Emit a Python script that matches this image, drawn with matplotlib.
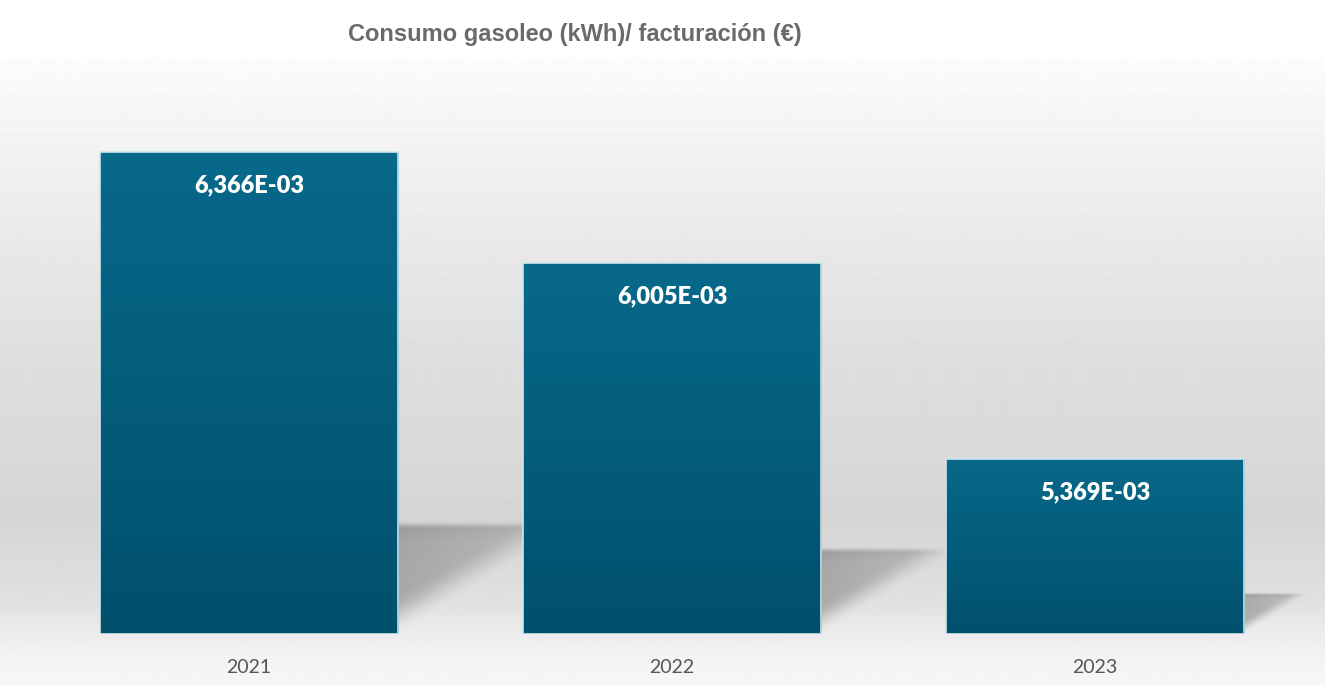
import numpy as np
import matplotlib
matplotlib.use('Agg')
import matplotlib.pyplot as plt
from matplotlib.colors import LinearSegmentedColormap

# data
years = ['2021', '2022', '2023']
ratio = [6.366e-3, 6.005e-3, 5.369e-3]   # kWh / €
y_min, y_max = 4.8e-3, 6.6e-3

W, H, DPI = 13.25, 6.85, 100
fig = plt.figure(figsize=(W, H), dpi=DPI, facecolor='white')

# background: wall fading to grey, then light floor
bg = fig.add_axes([0, 0, 1, 1], zorder=0)
bg.axis('off')
py = np.arange(685)
stops_y = [0, 55, 62, 200, 350, 520, 600, 634, 660, 685]
stops_g = [1.0, 1.0, 0.985, 0.93, 0.875, 0.835, 0.88, 0.925, 0.955, 0.965]
g = np.interp(py, stops_y, stops_g)
bg.imshow(np.repeat(g[:, None], 2, axis=1), cmap='gray', vmin=0, vmax=1,
          aspect='auto', extent=[0, 1, 0, 1], origin='upper')
bg.set_xlim(0, 1); bg.set_ylim(0, 1)

ax_pos = [37.5 / 1325, 51 / 685, 1269 / 1325, 554 / 685]
ax = fig.add_axes(ax_pos, zorder=1)
ax.patch.set_alpha(0)
x = np.arange(len(years))
bw = 0.705
ax.set_xlim(-0.5, 2.5)
ax.set_ylim(y_min, y_max)

# px scale for the shadows
px_x = ax_pos[2] * W * DPI / 3
px_y = ax_pos[3] * H * DPI / (y_max - y_min)

# soft floor shadows behind the bars
uu, vv = np.meshgrid(np.linspace(0, 1, 200), np.linspace(1, 0, 120))
def smooth(t):
    t = np.clip(t, 0, 1)
    return t * t * (3 - 2 * t)
a = smooth((vv - uu) / 0.35) * smooth((1 - vv) / 0.08) * (1 - 0.5 * uu)
a = a * (1 + 0.25 * smooth((vv - 0.8) / 0.2))
shadow = np.zeros(a.shape + (4,))
shadow[..., :3] = 0.45
shadow[..., 3] = np.clip(a * 0.5, 0, 1)
for xi, v in zip(x, ratio):
    h_px = (v - y_min) * px_y
    sh = 0.235 * h_px / px_y
    sw = 0.40 * h_px / px_x
    x0 = xi + bw / 2
    ax.imshow(shadow, extent=[x0, x0 + sw, y_min, y_min + sh], aspect='auto',
              interpolation='bilinear', zorder=1)

# bars with vertical gradient
bars = ax.bar(x, np.array(ratio) - y_min, bw, bottom=y_min, facecolor='none',
              edgecolor='#cfe6ee', linewidth=1.2, zorder=3)
cmap = LinearSegmentedColormap.from_list('bar', ['#00506c', '#08698a'])
grad = np.linspace(0, 1, 256)[:, None]
for b in bars:
    im = ax.imshow(grad, cmap=cmap, origin='lower', aspect='auto',
                   extent=[b.get_x(), b.get_x() + b.get_width(), b.get_y(), b.get_y() + b.get_height()],
                   zorder=2)
    im.set_clip_path(b)

for xi, v in zip(x, ratio):
    lab = f'{v:.3E}'.replace('.', ',')
    ax.annotate(lab, (xi, v), xytext=(0, -24), textcoords='offset points',
                ha='center', va='center', color='white', fontsize=17,
                fontweight='heavy', family='Lato', zorder=4)

ax.set_xticks(x)
ax.set_xticklabels(years, fontsize=14, color='#555555', family='Lato')
ax.tick_params(axis='x', length=0, pad=18)
ax.set_yticks([])
for s in ax.spines.values():
    s.set_visible(False)

fig.text(575 / 1325, 1 - 34 / 685, 'Consumo gasoleo (kWh)/ facturación (€)',
         ha='center', va='center', fontsize=17, fontweight='bold',
         color='#6a6a6a', family='Liberation Sans')

fig.savefig('out.png', dpi=DPI, facecolor='white')
